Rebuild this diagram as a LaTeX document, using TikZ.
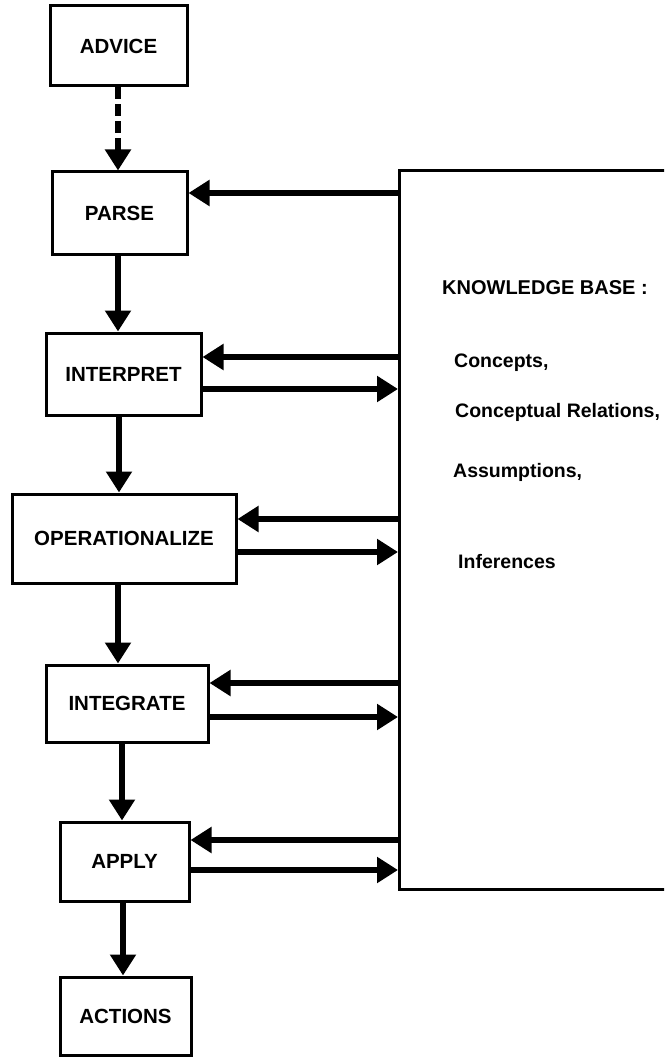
\documentclass[tikz,border=0pt]{standalone}
\usepackage{fontspec}
\setmainfont{Liberation Sans}
\usetikzlibrary{arrows.meta}
\begin{document}
\begin{tikzpicture}[x=1pt,y=-1pt,
  box/.style={draw, line width=3pt, inner sep=0pt, font=\bfseries\fontsize{20.5}{24}\selectfont},
  kbtext/.style={anchor=west, inner sep=0pt, font=\bfseries\fontsize{19.5}{23}\selectfont},
  link/.style={line width=5.5pt, -{Triangle[length=21pt,width=25pt]}},
  adv/.style={line width=6pt, dash pattern=on 12pt off 5pt, -{Triangle[length=21pt,width=25pt]}}
  ]
\path[use as bounding box, clip] (0,0) rectangle (664,1059);

% boxes
\node[box, minimum width=137pt, minimum height=80pt] (advice) at (118.5,46) {ADVICE};
\node[box, minimum width=135pt, minimum height=82pt] (parse) at (119.5,213) {PARSE};
\node[box, minimum width=155pt, minimum height=82pt] (interp) at (123.5,374) {INTERPRET};
\node[box, minimum width=224pt, minimum height=89pt] (oper) at (124,538.5) {OPERATIONALIZE};
\node[box, minimum width=162pt, minimum height=77pt] (integ) at (127,703.5) {INTEGRATE};
\node[box, minimum width=129pt, minimum height=79pt] (apply) at (124.5,861.5) {APPLY};
\node[box, minimum width=131pt, minimum height=78pt] (actions) at (125.5,1016) {ACTIONS};

% knowledge base
\node[draw, line width=3pt, minimum width=300pt, minimum height=719pt, inner sep=0pt, anchor=north west] (kb) at (398,169) {};
\node[kbtext, font=\bfseries\fontsize{20}{24}\selectfont] (kbtitle) at (442,288) {KNOWLEDGE BASE :};
\node[kbtext] (kb1) at (454,363) {Concepts,};
\node[kbtext] (kb2) at (455,412) {Conceptual Relations,};
\node[kbtext] (kb3) at (453,472) {Assumptions,};
\node[kbtext] (kb4) at (458,562) {Inferences};

% vertical flow
\draw[adv] (advice.south -| 118,0) -- (parse.north -| 118,0);
\draw[link] (parse.south -| 118,0) -- (interp.north -| 118,0);
\draw[link] (interp.south -| 119,0) -- (oper.north -| 119,0);
\draw[link] (oper.south -| 118,0) -- (integ.north -| 118,0);
\draw[link] (integ.south -| 122,0) -- (apply.north -| 122,0);
\draw[link] (apply.south -| 123,0) -- (actions.north -| 123,0);

% knowledge base links
\draw[link] (kb.west |- 0,193) -- (parse.east |- 0,193);
\draw[link] (kb.west |- 0,357) -- (interp.east |- 0,357);
\draw[link] (interp.east |- 0,389) -- (kb.west |- 0,389);
\draw[link] (kb.west |- 0,519) -- (oper.east |- 0,519);
\draw[link] (oper.east |- 0,552) -- (kb.west |- 0,552);
\draw[link] (kb.west |- 0,683) -- (integ.east |- 0,683);
\draw[link] (integ.east |- 0,717) -- (kb.west |- 0,717);
\draw[link] (kb.west |- 0,840) -- (apply.east |- 0,840);
\draw[link] (apply.east |- 0,870) -- (kb.west |- 0,870);
\end{tikzpicture}
\end{document}
